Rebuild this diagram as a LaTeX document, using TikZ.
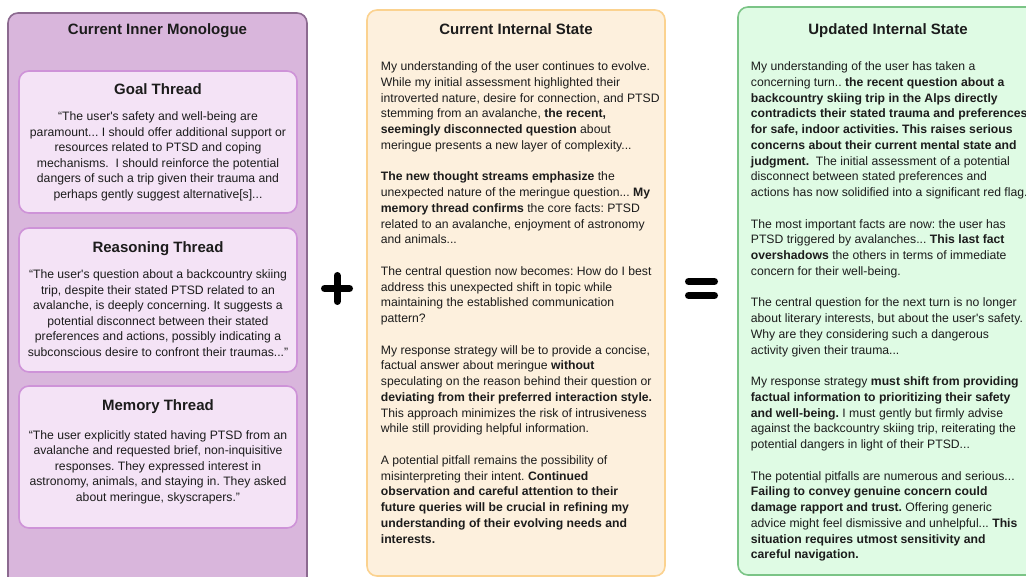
\documentclass[tikz,border=0pt]{standalone}
\usepackage{fontspec}
\setmainfont{Liberation Sans}
\frenchspacing

\definecolor{monoFill}{HTML}{D9B6DC}
\definecolor{monoLine}{HTML}{8C6A90}
\definecolor{threadFill}{HTML}{F4E3F6}
\definecolor{threadLine}{HTML}{CE93D8}
\definecolor{curFill}{HTML}{FDF0DD}
\definecolor{curLine}{HTML}{FBD28F}
\definecolor{updFill}{HTML}{DFFBE4}
\definecolor{updLine}{HTML}{7BC486}
\definecolor{ink}{HTML}{1C1C1C}

\newcommand\panelbody{\fontsize{12.2}{15.75}\selectfont}
\newcommand\threadbody{\fontsize{12.2}{15.5}\selectfont}
\newcommand\q{\textquotesingle}

\tikzset{
  x=1pt, y=-1pt,
  panel/.style={rounded corners=10pt, line width=1.6pt},
  heading/.style={anchor=base, inner sep=0pt, text=ink,
    font=\fontsize{15}{18}\selectfont\bfseries},
  threadtext/.style={anchor=base, inner sep=0pt, text=ink, font=\threadbody},
  paneltext/.style={anchor=base west, inner sep=0pt, text=ink, font=\panelbody},
  opsign/.style={line width=7pt, line cap=round, black},
}

\begin{document}
\begin{tikzpicture}
\useasboundingbox (0,0) rectangle (1026,577);
\clip (0,0) rectangle (1026,577);

% ---------- Current inner monologue ----------
\draw[panel, fill=monoFill, draw=monoLine] (8,13) rectangle (307,610);
\node[heading] (monoTitle) at (157.5,35) {Current Inner Monologue};

\draw[panel, fill=threadFill, draw=threadLine] (19,71) rectangle (297,213);
\node[heading] (goalTitle) at (158,95) {Goal Thread};
\node[threadtext] (goalText) at (158,120.7) {\parbox[t]{276pt}{\centering\frenchspacing
“The user\q s safety and well-being are\\
paramount... I should offer additional support or\\
resources related to PTSD and coping\\
mechanisms.~ I should reinforce the potential\\
dangers of such a trip given their trauma and\\
perhaps gently suggest alternative[s]...}};

\draw[panel, fill=threadFill, draw=threadLine] (19,228) rectangle (297,372);
\node[heading] (reasonTitle) at (158,252.3) {Reasoning Thread};
\node[threadtext] (reasonText) at (158,279) {\parbox[t]{276pt}{\centering\frenchspacing
“The user\q s question about a backcountry skiing\\
trip, despite their stated PTSD related to an\\
avalanche, is deeply concerning. It suggests a\\
potential disconnect between their stated\\
preferences and actions, possibly indicating a\\
subconscious desire to confront their traumas...”}};

\draw[panel, fill=threadFill, draw=threadLine] (19,386) rectangle (297,528);
\node[heading] (memTitle) at (158,410) {Memory Thread};
\node[threadtext] (memText) at (158,439) {\parbox[t]{276pt}{\centering\frenchspacing
“The user explicitly stated having PTSD from an\\
avalanche and requested brief, non-inquisitive\\
responses. They expressed interest in\\
astronomy, animals, and staying in. They asked\\
about meringue, skyscrapers.”}};

% ---------- plus ----------
\draw[opsign] (324.5,288.5) -- (349.5,288.5);
\draw[opsign] (337,275.5) -- (337,301.5);

% ---------- Current internal state ----------
\draw[panel, fill=curFill, draw=curLine] (367,10) rectangle (665,576);
\node[heading] (curTitle) at (516,35) {Current Internal State};
\node[paneltext] (curText) at (380.7,70.7) {\parbox[t]{300pt}{\raggedright\frenchspacing\setlength\parskip{15.75pt}%
My understanding of the user continues to evolve.\\
While my initial assessment highlighted their\\
introverted nature, desire for connection, and PTSD\\
stemming from an avalanche, {\bfseries the recent,\\
seemingly disconnected question} about\\
meringue presents a new layer of complexity...\par
{\bfseries The new thought streams emphasize} the\\
unexpected nature of the meringue question... {\bfseries My\\
memory thread confirms} the core facts: PTSD\\
related to an avalanche, enjoyment of astronomy\\
and animals...\par
The central question now becomes: How do I best\\
address this unexpected shift in topic while\\
maintaining the established communication\\
pattern?\par
My response strategy will be to provide a concise,\\
factual answer about meringue {\bfseries without}\\
speculating on the reason behind their question or\\
{\bfseries deviating from their preferred interaction style.}\\
This approach minimizes the risk of intrusiveness\\
while still providing helpful information.\par
A potential pitfall remains the possibility of\\
misinterpreting their intent. {\bfseries Continued\\
observation and careful attention to their\\
future queries will be crucial in refining my\\
understanding of their evolving needs and\\
interests.}}};

% ---------- equals ----------
\draw[opsign] (688.5,281.5) -- (714.5,281.5);
\draw[opsign] (688.5,295.5) -- (714.5,295.5);

% ---------- Updated internal state ----------
\draw[panel, fill=updFill, draw=updLine] (738,7) rectangle (1038,575);
\node[heading] (updTitle) at (888,35) {Updated Internal State};
\node[paneltext] (updText) at (750.7,70.7) {\parbox[t]{320pt}{\raggedright\frenchspacing\setlength\parskip{15.75pt}%
My understanding of the user has taken a\\
concerning turn.. {\bfseries the recent question about a\\
backcountry skiing trip in the Alps directly\\
contradicts their stated trauma and preferences\\
for safe, indoor activities. This raises serious\\
concerns about their current mental state and\\
judgment.}~ The initial assessment of a potential\\
disconnect between stated preferences and\\
actions has now solidified into a significant red flag.\par
The most important facts are now: the user has\\
PTSD triggered by avalanches... {\bfseries This last fact\\
overshadows} the others in terms of immediate\\
concern for their well-being.\par
The central question for the next turn is no longer\\
about literary interests, but about the user\q s safety.\\
Why are they considering such a dangerous\\
activity given their trauma...\par
My response strategy {\bfseries must shift from providing\\
factual information to prioritizing their safety\\
and well-being.} I must gently but firmly advise\\
against the backcountry skiing trip, reiterating the\\
potential dangers in light of their PTSD...\par
The potential pitfalls are numerous and serious...\\
{\bfseries Failing to convey genuine concern could\\
damage rapport and trust.} Offering generic\\
advice might feel dismissive and unhelpful... {\bfseries This\\
situation requires utmost sensitivity and\\
careful navigation.}}};
\end{tikzpicture}
\end{document}
